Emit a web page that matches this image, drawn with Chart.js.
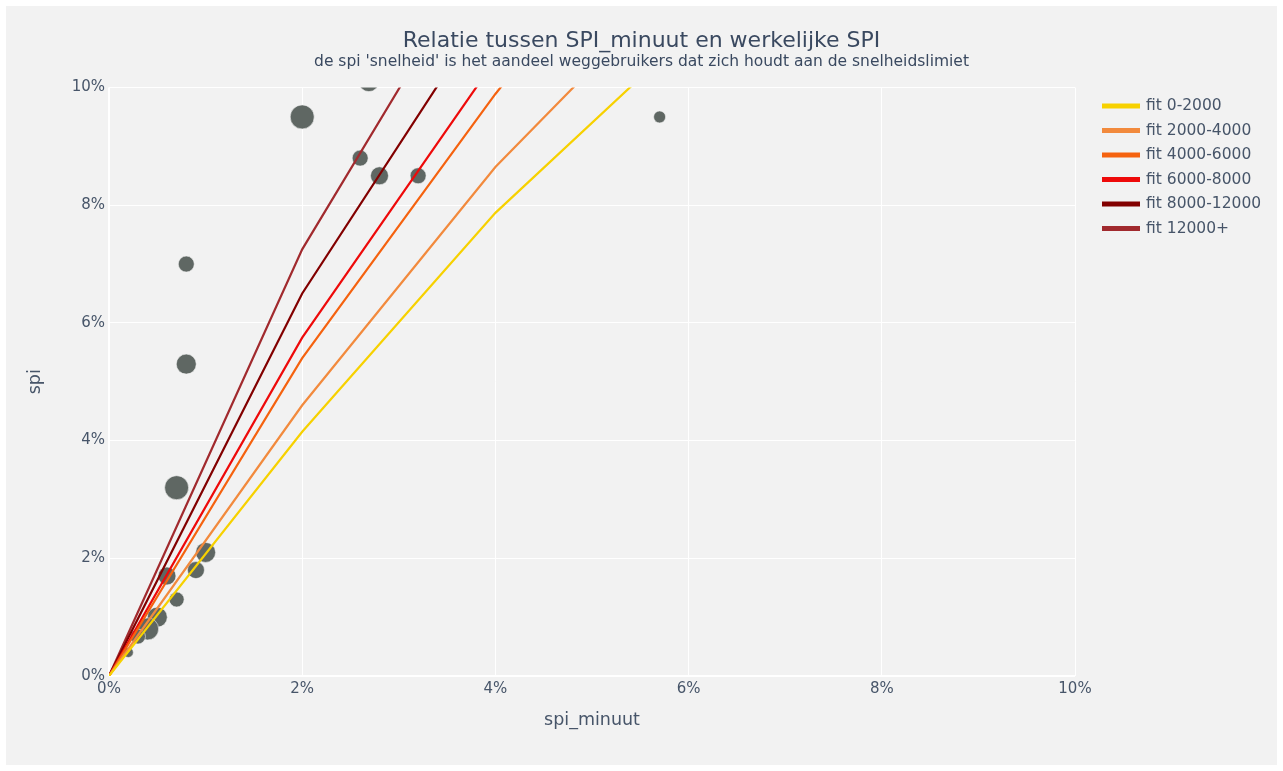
<!DOCTYPE html>
<html>
<head>
<meta charset="utf-8">
<title>Relatie tussen SPI_minuut en werkelijke SPI</title>
<script src="https://cdn.jsdelivr.net/npm/chart.js@4.4.1/dist/chart.umd.min.js"></script>
<style>
  html, body { margin: 0; padding: 0; background: #ffffff; }
  canvas { display: block; }
</style>
</head>
<body>
<canvas id="chart" width="1283" height="771"></canvas>
<script>
// Meetpunten: spi_minuut (x) tegen werkelijke spi (y), als fractie
const puntSpiMinuut = [0.0269, 0.0200, 0.0570, 0.0260, 0.0280, 0.0320, 0.0080, 0.0080, 0.0070,
                       0.0100, 0.0090, 0.0060, 0.0070, 0.0050, 0.0040, 0.0030, 0.0020];
const puntSpi       = [0.1010, 0.0950, 0.0950, 0.0880, 0.0850, 0.0850, 0.0700, 0.0530, 0.0320,
                       0.0210, 0.0180, 0.0170, 0.0130, 0.0100, 0.0080, 0.0067, 0.0040];
// Markergrootte (diameter) per meetpunt
const puntGrootte   = [20, 24, 12, 16, 18, 16, 16, 20, 24,
                       20, 17, 18, 15, 20, 22, 15, 10];

// Fitlijnen per intensiteitsklasse, bemonsterd op spi_minuut
const fitSpiMinuut = [0, 0.02, 0.04, 0.06];
const fit0_2000     = [0, 0.0415, 0.0787, 0.1093];
const fit2000_4000  = [0, 0.0460, 0.0865, 0.1200];
const fit4000_6000  = [0, 0.0540, 0.0989, 0.1400];
const fit6000_8000  = [0, 0.0575, 0.1047, 0.1520];
const fit8000_12000 = [0, 0.0650, 0.1154, 0.1650];
const fit12000plus  = [0, 0.0725, 0.1270, 0.1810];

const fitLabels = ['fit 0-2000', 'fit 2000-4000', 'fit 4000-6000', 'fit 6000-8000', 'fit 8000-12000', 'fit 12000+'];
const fitSeries = [fit0_2000, fit2000_4000, fit4000_6000, fit6000_8000, fit8000_12000, fit12000plus];
const fitColors = ['#f7d100', '#f28a3d', '#f5620f', '#ee0a0a', '#820000', '#a12a2e'];

const asPoints = (xs, ys) => xs.map((x, i) => ({ x: x, y: ys[i] }));
const pct = v => Math.round(v * 100) + '%';

const TEXT = '#475569';
const TITLE = '#3a4960';
const FONT = "'DejaVu Sans', Verdana, sans-serif";

// Achtergrond: lichtgrijs vlak binnen een witte rand
const paperBackground = {
  id: 'paperBackground',
  beforeDraw(chart) {
    const ctx = chart.ctx;
    ctx.save();
    ctx.fillStyle = '#ffffff';
    ctx.fillRect(0, 0, chart.width, chart.height);
    ctx.fillStyle = '#f2f2f2';
    ctx.fillRect(6, 6, chart.width - 12, chart.height - 12);
    ctx.restore();
  }
};

// Legenda rechts van het plotvlak, als eigen layout-box
const sideLegend = {
  id: 'sideLegend',
  beforeInit(chart) {
    const box = {
      position: 'right',
      weight: 1000,
      fullSize: false,
      options: { stack: undefined, stackWeight: 1 },
      isHorizontal() { return false; },
      getPadding() { return { top: 0, left: 0, right: 0, bottom: 0 }; },
      update(maxWidth, maxHeight) { this.width = 208; this.height = maxHeight; },
      draw() {
        const ctx = chart.ctx;
        const items = chart.data.datasets.filter(d => d.inLegend);
        ctx.save();
        ctx.font = '15.5px ' + FONT;
        ctx.textBaseline = 'middle';
        ctx.textAlign = 'left';
        items.forEach((d, i) => {
          const y = this.top + 18.5 + i * 24.5;
          ctx.fillStyle = d.borderColor;
          ctx.fillRect(this.left + 27, y - 2.5, 38, 5);
          ctx.fillStyle = TEXT;
          ctx.fillText(d.label, this.left + 71, y);
        });
        ctx.restore();
      }
    };
    Chart.layouts.addBox(chart, box);
  }
};

const lineSets = fitSeries.map((ys, i) => ({
  type: 'line',
  label: fitLabels[i],
  inLegend: true,
  data: asPoints(fitSpiMinuut, ys),
  borderColor: fitColors[i],
  backgroundColor: fitColors[i],
  borderWidth: 2.2,
  pointRadius: 0,
  fill: false,
  tension: 0,
  order: 0
}));

const bubbleSet = {
  type: 'bubble',
  label: 'meetpunten',
  inLegend: false,
  data: puntSpiMinuut.map((x, i) => ({ x: x, y: puntSpi[i], r: puntGrootte[i] / 2 })),
  backgroundColor: '#5f6763',
  borderColor: 'rgba(242,242,242,0.6)',
  borderWidth: 1,
  clip: 0,
  order: 1
};

function axis(titleText, isX) {
  return {
    type: 'linear',
    min: 0,
    max: 0.1,
    ticks: {
      stepSize: 0.02,
      callback: pct,
      color: TEXT,
      font: { family: FONT, size: 15 },
      padding: 4
    },
    grid: {
      color: '#ffffff',
      lineWidth: c => (c.tick && c.tick.value === 0 ? 2 : 1),
      drawTicks: false
    },
    border: { display: false },
    title: {
      display: true,
      text: titleText,
      color: TEXT,
      font: { family: FONT, size: 17.5, lineHeight: 1.2 },
      padding: isX ? { top: 0, bottom: 40.5 } : { top: 24.5, bottom: 0 }
    },
    afterFit(s) {
      if (isX) s.height = 95; else s.width = 109;
    }
  };
}

new Chart(document.getElementById('chart'), {
  type: 'bubble',
  data: { datasets: [...lineSets, bubbleSet] },
  options: {
    responsive: false,
    devicePixelRatio: 1,
    animation: false,
    events: [],
    layout: { padding: 0 },
    plugins: {
      legend: { display: false },
      tooltip: { enabled: false },
      title: {
        display: true,
        text: 'Relatie tussen SPI_minuut en werkelijke SPI',
        color: TITLE,
        font: { family: FONT, size: 22, weight: 'normal', lineHeight: 1.0 },
        padding: { top: 30, bottom: 0 }
      },
      subtitle: {
        display: true,
        text: "de spi 'snelheid' is het aandeel weggebruikers dat zich houdt aan de snelheidslimiet",
        color: TITLE,
        font: { family: FONT, size: 15.5, weight: 'normal', lineHeight: 1.0 },
        padding: { top: 2.25, bottom: 17.75 }
      }
    },
    scales: {
      x: axis('spi_minuut', true),
      y: axis('spi', false)
    }
  },
  plugins: [paperBackground, sideLegend]
});
</script>
</body>
</html>
